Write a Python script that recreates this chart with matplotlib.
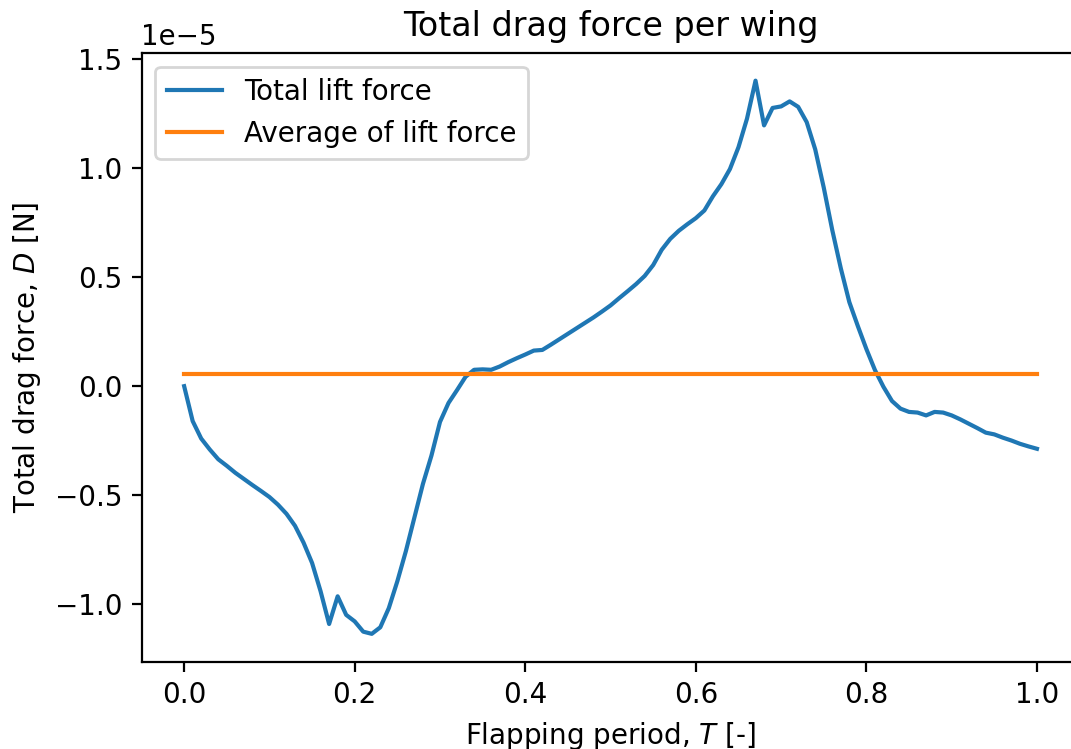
import numpy as np
import matplotlib
matplotlib.use("Agg")
import matplotlib.pyplot as plt

t = np.round(np.arange(0, 101) * 0.01, 2)
drag_e5 = [
    0.0, -0.16, -0.24, -0.29, -0.335, -0.365, -0.397, -0.425, -0.453, -0.48,
    -0.508, -0.543, -0.585, -0.64, -0.717, -0.81, -0.94, -1.09, -0.963, -1.048,
    -1.078, -1.125, -1.135, -1.105, -1.017, -0.894, -0.756, -0.602, -0.448, -0.318,
    -0.164, -0.077, -0.018, 0.043, 0.075, 0.077, 0.075, 0.09, 0.11, 0.128,
    0.145, 0.163, 0.166, 0.19, 0.215, 0.24, 0.265, 0.29, 0.315, 0.342,
    0.37, 0.403, 0.435, 0.468, 0.505, 0.555, 0.625, 0.675, 0.712, 0.742,
    0.77, 0.805, 0.87, 0.926, 0.995, 1.095, 1.226, 1.40, 1.195, 1.275,
    1.282, 1.305, 1.28, 1.21, 1.085, 0.91, 0.715, 0.54, 0.385, 0.275,
    0.17, 0.074, -0.003, -0.068, -0.103, -0.118, -0.121, -0.134, -0.118, -0.121,
    -0.134, -0.152, -0.172, -0.192, -0.213, -0.221, -0.236, -0.249, -0.264, -0.276,
    -0.287,
]
drag = np.array(drag_e5) * 1e-5
avg_value = 0.058e-5

dpi = 200
W, H = 1071, 749
fig = plt.figure(figsize=(W / dpi, H / dpi), dpi=dpi)
ax = fig.add_axes([141.5 / W, (H - 661.5) / H, 938.1 / W, 608.5 / H])
ax.plot(t, drag, label="Total lift force")
ax.plot(t, np.full_like(t, avg_value), label="Average of lift force")
ax.spines["right"].set_visible(False)
ax.set_title("Total drag force per wing")
ax.set_xlabel("Flapping period, $T$ [-]")
ax.set_ylabel("Total drag force, $D$ [N]")
ax.legend(loc="upper left")
fig.savefig("out.png", dpi=dpi)
